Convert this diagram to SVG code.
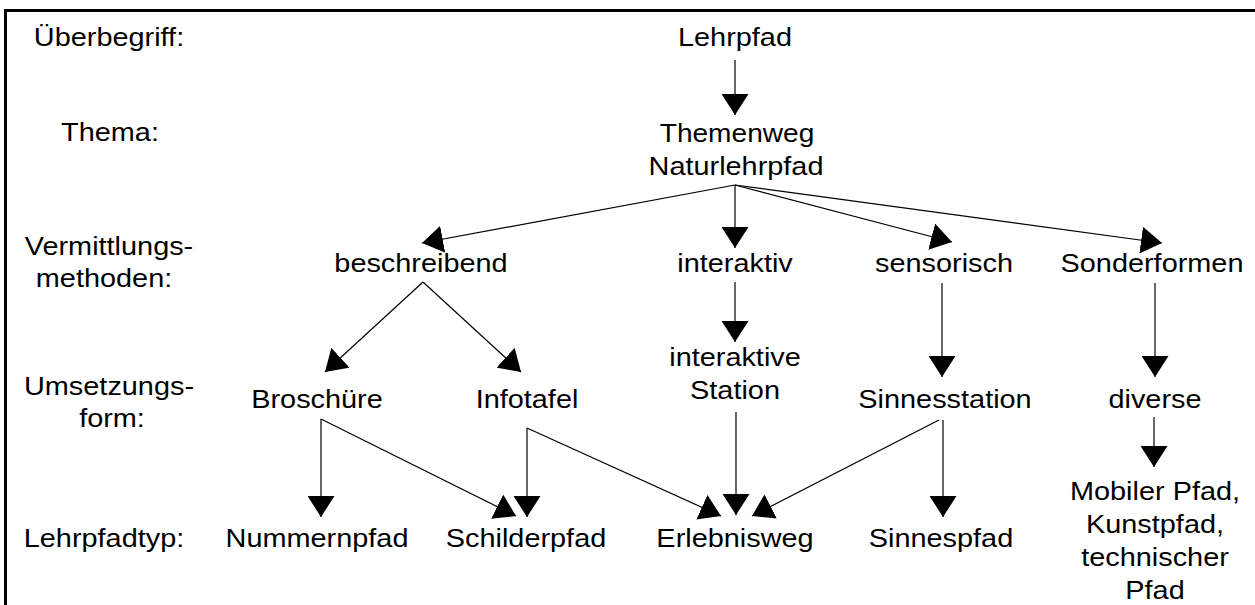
<svg xmlns="http://www.w3.org/2000/svg" width="1255" height="605" viewBox="0 0 1255 605">
<style>
text { font-family: "Liberation Sans", Arial, sans-serif; font-size: 26.5px; fill: #000; text-anchor: middle; }
.c line { stroke: #000; stroke-width: 1.2; marker-end: url(#ah); }
</style>
<defs>
<marker id="ah" markerUnits="userSpaceOnUse" markerWidth="21" markerHeight="27" viewBox="0 0 21 27" refX="21" refY="13.5" orient="auto">
<path d="M0,0 L21,13.5 L0,27 Z" fill="#000"/>
</marker>
</defs>
<rect x="5.5" y="10.5" width="1300" height="700" fill="none" stroke="#000" stroke-width="3"/>
<g id="labels">
<text transform="translate(109,46) scale(1.09,1)">Überbegriff:</text>
<text transform="translate(110,141) scale(1.09,1)">Thema:</text>
<text transform="translate(109,255) scale(1.09,1)">Vermittlungs-</text>
<text transform="translate(104,287) scale(1.09,1)">methoden:</text>
<text transform="translate(109,395) scale(1.09,1)">Umsetzungs-</text>
<text transform="translate(112,427) scale(1.09,1)">form:</text>
<text transform="translate(104,547) scale(1.09,1)">Lehrpfadtyp:</text>
</g>
<g id="n-lehrpfad"><text transform="translate(735,46) scale(1.09,1)">Lehrpfad</text></g>
<g id="n-thema"><text transform="translate(737,142) scale(1.06,1)">Themenweg</text><text transform="translate(736,175) scale(1.09,1)">Naturlehrpfad</text></g>
<g id="n-beschreibend"><text transform="translate(421,272) scale(1.09,1)">beschreibend</text></g>
<g id="n-interaktiv"><text transform="translate(735,272) scale(1.09,1)">interaktiv</text></g>
<g id="n-sensorisch"><text transform="translate(944,272) scale(1.09,1)">sensorisch</text></g>
<g id="n-sonderformen"><text transform="translate(1152,272) scale(1.09,1)">Sonderformen</text></g>
<g id="n-broschuere"><text transform="translate(317,408) scale(1.09,1)">Broschüre</text></g>
<g id="n-infotafel"><text transform="translate(527,408) scale(1.09,1)">Infotafel</text></g>
<g id="n-station"><text transform="translate(735,366) scale(1.09,1)">interaktive</text><text transform="translate(735,399) scale(1.09,1)">Station</text></g>
<g id="n-sinnesstation"><text transform="translate(945,408) scale(1.09,1)">Sinnesstation</text></g>
<g id="n-diverse"><text transform="translate(1155,408) scale(1.09,1)">diverse</text></g>
<g id="n-nummernpfad"><text transform="translate(317,547) scale(1.09,1)">Nummernpfad</text></g>
<g id="n-schilderpfad"><text transform="translate(526,547) scale(1.09,1)">Schilderpfad</text></g>
<g id="n-erlebnisweg"><text transform="translate(735,547) scale(1.09,1)">Erlebnisweg</text></g>
<g id="n-sinnespfad"><text transform="translate(941,547) scale(1.09,1)">Sinnespfad</text></g>
<g id="n-mobil"><text transform="translate(1155,500) scale(1.09,1)">Mobiler Pfad,</text><text transform="translate(1155,533) scale(1.09,1)">Kunstpfad,</text><text transform="translate(1155,566) scale(1.09,1)">technischer</text><text transform="translate(1155,599) scale(1.09,1)">Pfad</text></g>
<g id="connectors" class="c">
<line x1="735" y1="60" x2="735" y2="115"/>
<line x1="735" y1="185" x2="422" y2="243"/>
<line x1="735" y1="185" x2="735" y2="248"/>
<line x1="735" y1="185" x2="952" y2="242"/>
<line x1="735" y1="185" x2="1162" y2="243"/>
<line x1="423" y1="282" x2="325" y2="372"/>
<line x1="423" y1="282" x2="521" y2="372"/>
<line x1="735" y1="282" x2="735" y2="342"/>
<line x1="942" y1="283" x2="942" y2="377"/>
<line x1="1155" y1="283" x2="1155" y2="377"/>
<line x1="321" y1="419" x2="321" y2="517"/>
<line x1="321" y1="419" x2="516" y2="516"/>
<line x1="527" y1="428" x2="527" y2="517"/>
<line x1="527" y1="428" x2="721" y2="516"/>
<line x1="736" y1="412" x2="736" y2="515"/>
<line x1="939" y1="420" x2="752" y2="516"/>
<line x1="943" y1="420" x2="943" y2="517"/>
<line x1="1154" y1="417" x2="1154" y2="467"/>
</g>
</svg>
